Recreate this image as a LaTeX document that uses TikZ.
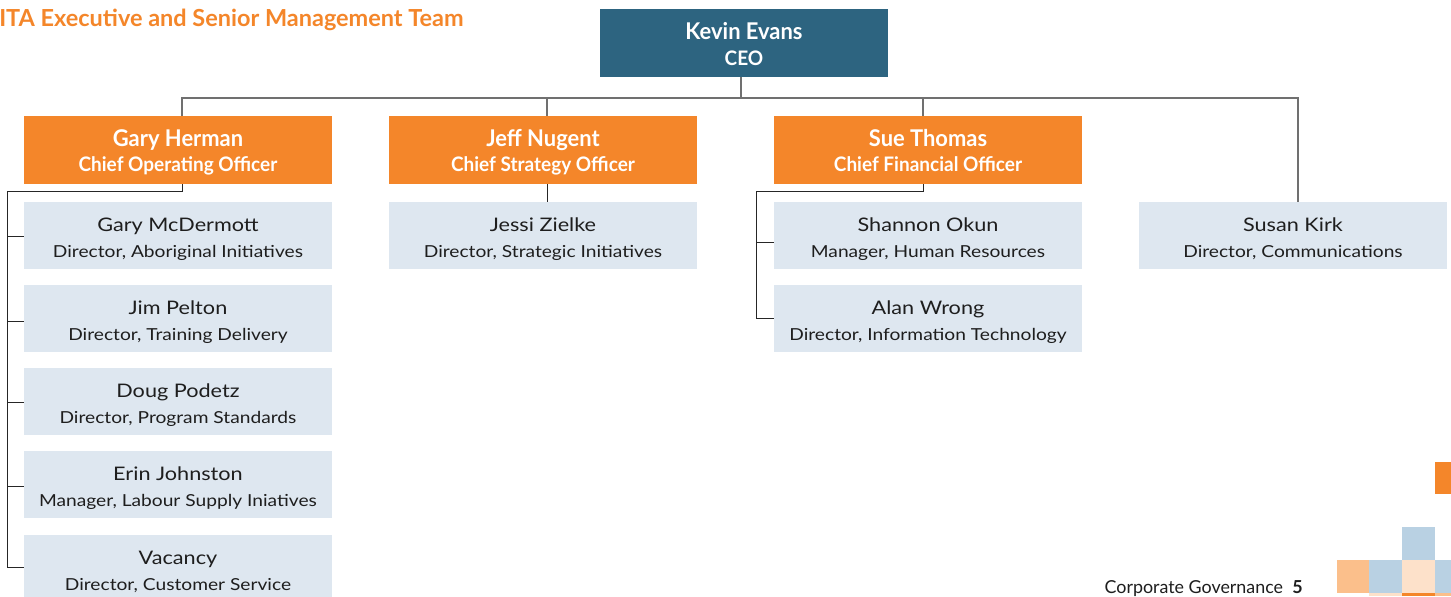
\documentclass[tikz,border=0pt]{standalone}
\usepackage{fontspec}
\setmainfont{Lato}
\newfontfamily\condf[FakeStretch=0.95]{Lato}
\newfontfamily\widef[FakeStretch=1.16]{Lato}
\usetikzlibrary{calc}
\definecolor{ceoblue}{HTML}{2D6480}
\definecolor{ora}{HTML}{F4862A}
\definecolor{lblue}{HTML}{DEE7F0}
\definecolor{sqblue}{HTML}{B9D1E3}
\definecolor{sqlor}{HTML}{FBBF8B}
\definecolor{sqpeach}{HTML}{FDE1CA}
\definecolor{topline}{HTML}{707070}
\definecolor{subline}{HTML}{262626}
\definecolor{txt}{HTML}{1E1E1E}
\newcommand{\rl}[1]{{\fontsize{12.4}{19.5}\selectfont #1}}
\newcommand{\hr}[1]{{\fontsize{15}{19}\selectfont #1}}
\begin{document}
\begin{tikzpicture}[x=0.75pt,y=-0.75pt,
 box/.style={minimum width=231pt, minimum height=50.25pt, inner sep=0pt, align=center, anchor=center},
 ceo/.style={box, fill=ceoblue, text=white, minimum width=216pt, minimum height=51pt,
   font=\condf\bfseries\fontsize{17.3}{20}\selectfont, text height=34pt, text depth=0pt},
 exec/.style={box, fill=ora, text=white, minimum height=51pt,
   font=\condf\bfseries\fontsize{17.3}{18.75}\selectfont, text height=32.2pt, text depth=0pt},
 staff/.style={box, fill=lblue, text=txt, font=\widef\fontsize{14}{19.5}\selectfont,
   text height=33pt, text depth=0pt},
 topc/.style={draw=topline, line width=1.1pt},
 subc/.style={draw=subline, line width=0.75pt},
]
\clip (0,0) rectangle (1451,596);
\fill[white] (0,0) rectangle (1451,596);

\node[anchor=west, inner sep=0pt, text=ora, font=\bfseries\fontsize{17.6}{19}\selectfont] (title) at (-1,20) {ITA Executive and Senior Management Team};

\node[ceo] (ceo) at (744,43) {Kevin Evans\\\hr{CEO}};

\node[exec] (coo) at (178,150) {Gary Herman\\\hr{Chief Operating Officer}};
\node[exec] (cso) at (543,150) {Jeff Nugent\\\hr{Chief Strategy Officer}};
\node[exec] (cfo) at (928,150) {Sue Thomas\\\hr{Chief Financial Officer}};

\node[staff] (g1) at (178,235.5) {Gary McDermott\\\rl{Director, Aboriginal Initiatives}};
\node[staff] (g2) at (178,318.5) {Jim Pelton\\\rl{Director, Training Delivery}};
\node[staff] (g3) at (178,401.5) {Doug Podetz\\\rl{Director, Program Standards}};
\node[staff] (g4) at (178,484.5) {Erin Johnston\\\rl{Manager, Labour Supply Iniatives}};
\node[staff] (g5) at (178,568.5) {Vacancy\\\rl{Director, Customer Service}};

\node[staff] (j1) at (543,235.5) {Jessi Zielke\\\rl{Director, Strategic Initiatives}};

\node[staff] (s1) at (928,235.5) {Shannon Okun\\\rl{Manager, Human Resources}};
\node[staff] (s2) at (928,318.5) {Alan Wrong\\\rl{Director, Information Technology}};

\node[staff] (k1) at (1293,235.5) {Susan Kirk\\\rl{Director, Communications}};

% top connectors
\coordinate (bus) at (0,98);
\coordinate (gx) at ($(coo.north)+(4,0)$);
\coordinate (jx) at ($(cso.north)+(4,0)$);
\coordinate (sx) at ($(cfo.north)+(-5,0)$);
\coordinate (kx) at ($(k1.north)+(5,0)$);
\coordinate (cx) at ($(ceo.south)+(-3,0)$);
\draw[topc] (cx) -- (bus -| cx);
\draw[topc] (gx) |- (bus -| kx) -- (kx);
\draw[topc] (jx) -- (bus -| jx);
\draw[topc] (sx) -- (bus -| sx);

% Gary's reports
\coordinate (gb) at ($(coo.south)+(4,0)$);
\draw[subc] (gb) -- ++(0,7) -| ($(g5.west)+(-16,-1)$) -- ($(g5.west)+(0,-1)$);
\draw[subc] ($(g1.west)+(0,1)$) -- ++(-16,0);
\draw[subc] ($(g2.west)+(0,3)$) -- ++(-16,0);
\draw[subc] ($(g3.west)+(0,1)$) -- ++(-16,0);
\draw[subc] ($(g4.west)+(0,1.5)$) -- ++(-16,0);

% Jeff's report
\draw[subc] ($(cso.south)+(4,0)$) -- ($(j1.north)+(4,0)$);

% Sue's reports
\draw[subc] ($(cfo.south)+(-5,0)$) -- ++(0,7) -| ($(s2.west)+(-17,0)$) -- (s2.west);
\draw[subc] ($(s1.west)+(0,7)$) -- ++(-17,0);

% footer
\node[anchor=base east, inner sep=0pt, text=txt, font=\fontsize{13.4}{15}\selectfont] (cg) at (1303,593) {Corporate Governance\hspace{7pt}\textbf{5}};

% decorative squares
\fill[ora] (1435,462) rectangle (1451,494);
\fill[sqblue] (1402,527) rectangle (1435,560);
\fill[sqlor] (1337,560) rectangle (1369,593);
\fill[sqblue] (1369,560) rectangle (1402,593);
\fill[sqpeach] (1402,560) rectangle (1435,593);
\fill[sqblue] (1435,560) rectangle (1451,593);
\fill[sqpeach] (1369,593) rectangle (1402,596);
\fill[ora] (1402,593) rectangle (1435,596);
\fill[sqlor] (1435,593) rectangle (1451,596);
\end{tikzpicture}
\end{document}
